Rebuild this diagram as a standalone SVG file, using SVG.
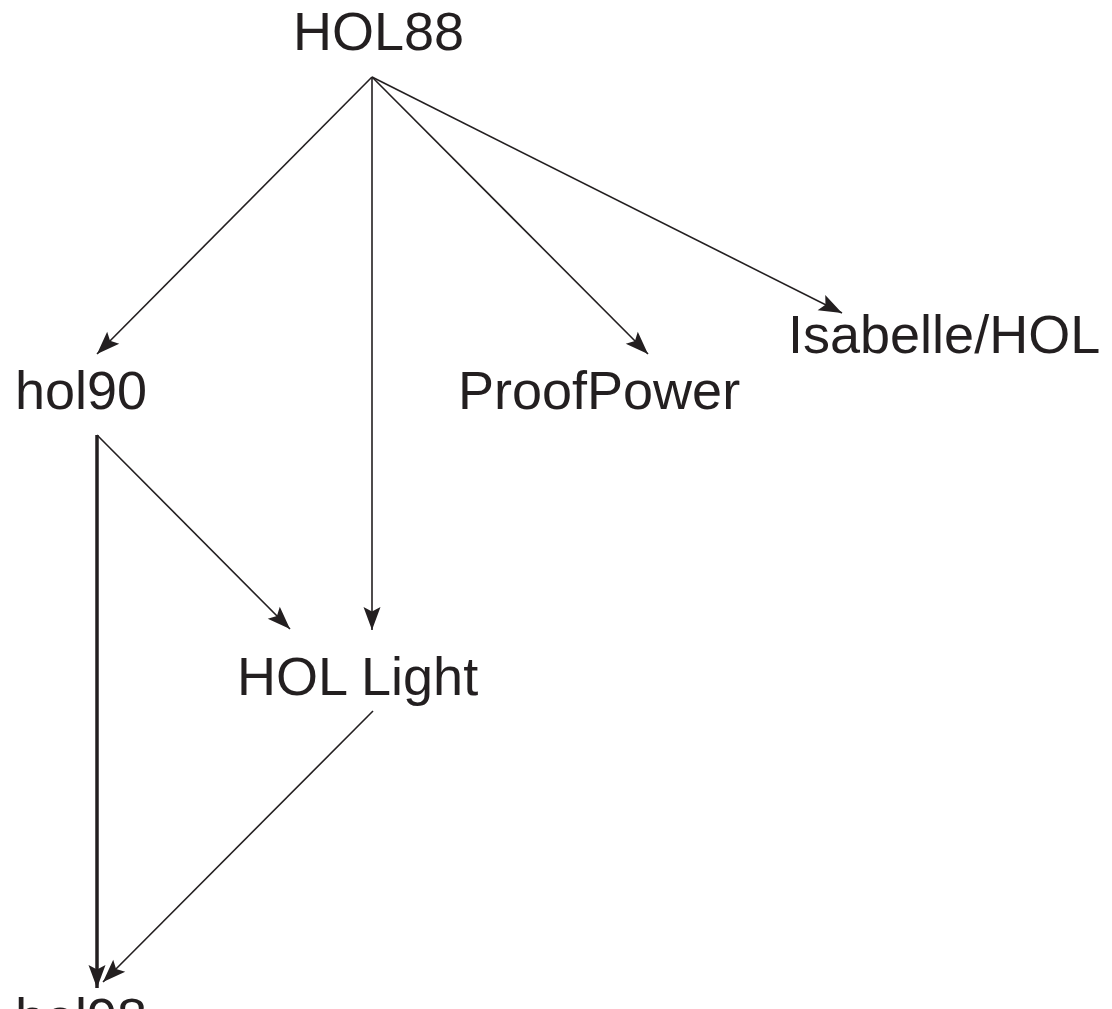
<svg xmlns="http://www.w3.org/2000/svg" width="1112" height="1009" viewBox="0 0 1112 1009">
<style>
.lbl{font-family:"Liberation Sans",Arial,sans-serif;font-size:54px;fill:#231f20}
.edge{stroke:#231f20;stroke-width:1.6;fill:none}
.thick{stroke-width:3.5}
</style>
<defs>
<marker id="ah" markerUnits="userSpaceOnUse" markerWidth="30" markerHeight="24" refX="0" refY="0" viewBox="-26 -12 30 24" orient="auto" overflow="visible">
<path d="M0,0 L-23,-8.5 L-18.5,0 L-23,8.5 Z" fill="#231f20"/>
</marker>
</defs>
<rect width="1112" height="1009" fill="#ffffff"/>
<g id="connectors">
<line class="edge" x1="372" y1="77" x2="97" y2="354" marker-end="url(#ah)"/>
<line class="edge" x1="372" y1="77" x2="372" y2="630" marker-end="url(#ah)"/>
<line class="edge" x1="372" y1="77" x2="648" y2="354" marker-end="url(#ah)"/>
<line class="edge" x1="372" y1="77" x2="842" y2="313" marker-end="url(#ah)"/>
<line class="edge thick" x1="97" y1="435" x2="97" y2="988" marker-end="url(#ah)"/>
<line class="edge" x1="97" y1="435" x2="290" y2="629" marker-end="url(#ah)"/>
<line class="edge" x1="373" y1="711" x2="103" y2="982" marker-end="url(#ah)"/>
</g>
<g id="node-HOL88"><text class="lbl" x="293" y="50">HOL88</text></g>
<g id="node-hol90"><text class="lbl" x="15" y="409">hol90</text></g>
<g id="node-ProofPower"><text class="lbl" x="458" y="409">ProofPower</text></g>
<g id="node-Isabelle"><text class="lbl" x="788" y="353">Isabelle/HOL</text></g>
<g id="node-HOLLight"><text class="lbl" x="237" y="695">HOL Light</text></g>
<g id="node-hol98"><text class="lbl" x="15" y="1036">hol98</text></g>
</svg>
